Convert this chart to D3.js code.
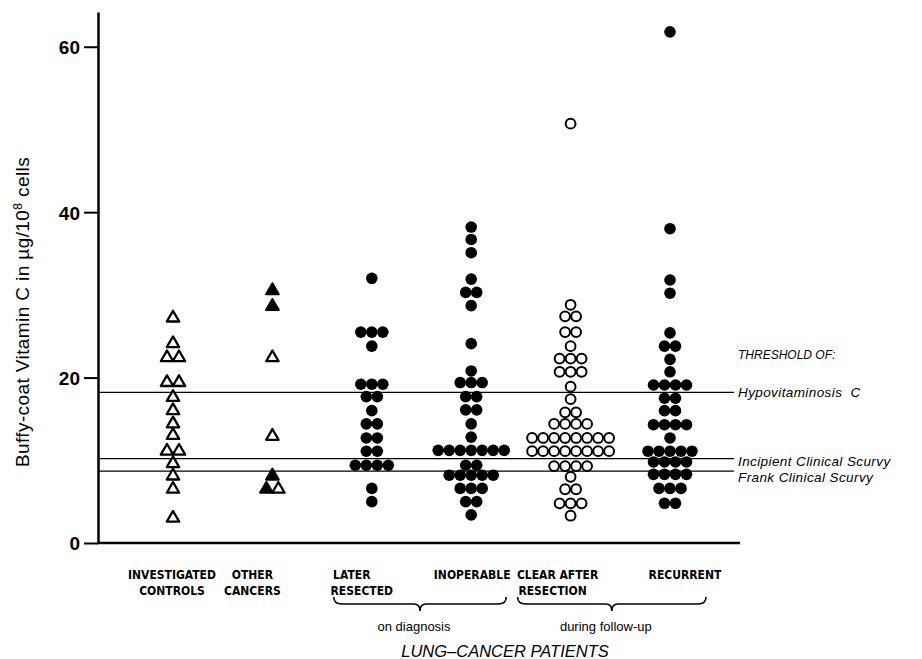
<!DOCTYPE html>
<html>
<head>
<meta charset="utf-8">
<script src="https://cdn.jsdelivr.net/npm/d3@7"></script>
<style>
  body { margin: 0; background: #fff; }
  .axis path, .axis line { stroke: #000; }
  .axis text { font-family: "Liberation Sans", Arial, sans-serif; font-weight: bold; font-size: 19px; fill: #000; }
  .cat { font-family: "DejaVu Sans", sans-serif; font-stretch: condensed; font-weight: bold; font-size: 12px; }
  .note { font-family: "Liberation Sans", Arial, sans-serif; font-style: italic; font-size: 13.5px; letter-spacing: 0.4px; }
  .sub { font-family: "Liberation Sans", Arial, sans-serif; font-size: 13px; }
</style>
</head>
<body>
<svg class="chart"></svg>
<script>
// data
var categories = ['INVESTIGATED CONTROLS', 'OTHER CANCERS', 'LATER RESECTED', 'INOPERABLE', 'CLEAR AFTER RESECTION', 'RECURRENT'];

var controls = [27.3, 24.2, 22.5, 22.5, 19.5, 19.5, 17.7, 16.1, 14.5, 13.1, 11.2, 11.2, 9.7, 8.2, 6.6, 3.1];
var otherFilled = [30.6, 28.7, 8.2, 6.6];
var otherOpen = [22.5, 13.0, 6.6];
var laterResected = [32.0, 25.5, 25.5, 25.5, 23.8, 19.2, 19.2, 19.2, 17.7, 17.7, 16.0, 14.4, 14.4,
  12.7, 12.7, 11.1, 11.1, 9.4, 9.4, 9.4, 9.4, 6.6, 5.0];
var inoperable = [38.2, 36.7, 35.1, 31.9, 30.3, 30.3, 28.7, 24.1, 20.8, 19.4, 19.4, 19.4, 17.7, 17.7,
  16.1, 16.1, 14.4, 12.8, 11.2, 11.2, 11.2, 11.2, 11.2, 11.2, 11.2, 9.4, 9.4,
  8.2, 8.2, 8.2, 8.2, 8.2, 6.6, 6.6, 6.6, 5.0, 5.0, 3.4];
var clearAfter = [50.7, 28.8, 27.4, 27.4, 25.5, 25.5, 23.8, 22.3, 22.3, 22.3, 20.7, 20.7, 20.7, 18.9, 17.4,
  15.8, 15.8, 14.4, 14.4, 14.4, 14.4, 12.7, 12.7, 12.7, 12.7, 12.7, 12.7, 12.7, 12.7,
  11.1, 11.1, 11.1, 11.1, 11.1, 11.1, 11.1, 11.1, 9.3, 9.3, 9.3, 9.3, 8.0, 6.5, 6.5, 4.8, 4.8, 4.8, 3.3];
var recurrent = [61.8, 38.0, 31.8, 30.2, 25.4, 23.8, 23.8, 22.2, 20.7, 19.1, 19.1, 19.1, 19.1, 17.5, 17.5,
  16.0, 16.0, 14.3, 14.3, 14.3, 14.3, 12.7, 11.1, 11.1, 11.1, 11.1, 11.1,
  9.8, 9.8, 9.8, 9.8, 8.3, 8.3, 8.3, 8.3, 6.6, 6.6, 6.6, 4.8, 4.8];

var thresholds = [18.2, 10.2, 8.7];
var thresholdLabels = ['Hypovitaminosis  C', 'Incipient Clinical Scurvy', 'Frank Clinical Scurvy'];
var yTicks = [0, 20, 40, 60];

// chart
var width = 922;
var height = 659;
var margin = { left: 98, right: 190, top: 12, bottom: 116 };

var chart = d3.select('.chart')
    .attr('width', width)
    .attr('height', height);

var x = d3.scalePoint()
    .domain(categories)
    .range([173, 670]);

var y = d3.scaleLinear()
    .domain([0, 64.2])
    .range([height - margin.bottom, margin.top]);

// build point list: shape 'tri' or 'dot', filled or not
var points = [];
function add(cat, vals, shape, filled) {
  vals.forEach(function(v) { points.push({cat: cat, v: v, shape: shape, filled: filled}); });
}
add(categories[0], controls, 'tri', false);
add(categories[1], otherFilled, 'tri', true);
add(categories[1], otherOpen, 'tri', false);
add(categories[2], laterResected, 'dot', true);
add(categories[3], inoperable, 'dot', true);
add(categories[4], clearAfter, 'dot', false);
add(categories[5], recurrent, 'dot', true);

// equal values sit side by side, centred on the column
var rows = d3.group(points, function(d) { return d.cat + '|' + d.v; });
rows.forEach(function(list) {
  var step = list[0].shape == 'tri' ? 12 : 11;
  list.forEach(function(d, i) { d.dx = (i - (list.length - 1) / 2) * step; });
});

// threshold lines
chart.selectAll('.threshold')
    .data(thresholds)
  .enter().append('line')
    .attr('x1', margin.left)
    .attr('x2', 734)
    .attr('y1', function(d) { return y(d); })
    .attr('y2', function(d) { return y(d); })
    .attr('stroke', '#000')
    .attr('stroke-width', 1.3);

var labelY = [0, 2, 6];
chart.selectAll('.thLabel')
    .data(thresholdLabels)
  .enter().append('text')
    .attr('class', 'note')
    .attr('x', 738)
    .attr('y', function(d, i) { return y(thresholds[i]) + 5 + labelY[i]; })
    .style('white-space', 'pre')
    .text(function(d) { return d; });

chart.append('text')
    .attr('class', 'note')
    .attr('x', 738)
    .attr('y', 359)
    .style('font-size', '12px')
    .style('letter-spacing', '0px')
    .text('THRESHOLD OF:');

// markers
var tri = 'M0,-6.4L6.2,4.3L-6.2,4.3Z';
chart.selectAll('.tri')
    .data(points.filter(function(d) { return d.shape == 'tri'; }))
  .enter().append('path')
    .attr('d', tri)
    .attr('transform', function(d) { return 'translate(' + (x(d.cat) + d.dx) + ',' + y(d.v) + ')'; })
    .attr('fill', function(d) { return d.filled ? '#000' : '#fff'; })
    .attr('stroke', '#000')
    .attr('stroke-width', 2.3)
    .attr('stroke-linejoin', 'round');

chart.selectAll('.dot')
    .data(points.filter(function(d) { return d.shape == 'dot'; }))
  .enter().append('circle')
    .attr('cx', function(d) { return x(d.cat) + d.dx; })
    .attr('cy', function(d) { return y(d.v); })
    .attr('r', function(d) { return d.filled ? 5.8 : 4.9; })
    .attr('fill', function(d) { return d.filled ? '#000' : '#fff'; })
    .attr('stroke', '#000')
    .attr('stroke-width', function(d) { return d.filled ? 0 : 2; });

// axes
var yAxis = d3.axisLeft(y)
    .tickValues(yTicks)
    .tickSize(14)
    .tickSizeOuter(0)
    .tickPadding(4);

var gy = chart.append('g')
    .attr('class', 'y axis')
    .attr('transform', 'translate(' + margin.left + ',0)')
    .call(yAxis);
gy.select('.domain').attr('stroke-width', 2.5);
gy.selectAll('.tick line').attr('stroke-width', 2);
gy.selectAll('.tick text').attr('dy', '0.36em');

chart.append('line')
    .attr('x1', margin.left - 1)
    .attr('x2', 740)
    .attr('y1', y(0))
    .attr('y2', y(0))
    .attr('stroke', '#000')
    .attr('stroke-width', 2.5);

chart.append('text')
    .attr('transform', 'translate(29,' + 312 + ') rotate(-90)')
    .attr('text-anchor', 'middle')
    .style('font-family', '"Liberation Sans", Arial, sans-serif')
    .style('font-size', '19px')
    .style('letter-spacing', '0.4px')
    .html('Buffy-coat Vitamin C in µg/10<tspan dy="-7" font-size="12px">8</tspan><tspan dy="7"> cells</tspan>');

// category labels
var catLines = [['INVESTIGATED', 'CONTROLS'], ['OTHER', 'CANCERS'], ['LATER', 'RESECTED'], ['INOPERABLE'], ['CLEAR AFTER', 'RESECTION'], ['RECURRENT']];
var catShift = [[-1, -1], [-20, -20], [-20, -10], [1], [-13, -18], [15]];
catLines.forEach(function(lines, i) {
  lines.forEach(function(t, j) {
    chart.append('text')
      .attr('class', 'cat')
      .attr('x', x(categories[i]) + catShift[i][j])
      .attr('y', 579 + j * 16)
      .attr('text-anchor', 'middle')
      .text(t);
  });
});

// braces
function brace(x1, x2) {
  var tip = (x1 + x2) / 2;
  return 'M' + x1 + ',597 Q' + x1 + ',604 ' + (x1 + 8) + ',604 L' + (tip - 6) + ',604 Q' + tip + ',604 ' + tip + ',611' +
    ' Q' + tip + ',604 ' + (tip + 6) + ',604 L' + (x2 - 8) + ',604 Q' + x2 + ',604 ' + x2 + ',597';
}
var braces = [[x(categories[2]) - 38, x(categories[3]) + 35], [x(categories[4]) - 53, x(categories[5]) + 36]];
chart.selectAll('.brace')
    .data(braces)
  .enter().append('path')
    .attr('d', function(d) { return brace(d[0], d[1]); })
    .attr('fill', 'none')
    .attr('stroke', '#000')
    .attr('stroke-width', 1.6);

chart.selectAll('.sub')
    .data(['on diagnosis', 'during follow-up'])
  .enter().append('text')
    .attr('class', 'sub')
    .attr('x', function(d, i) { return (braces[i][0] + braces[i][1]) / 2 - 6; })
    .attr('y', 631)
    .attr('text-anchor', 'middle')
    .text(function(d) { return d; });

chart.append('text')
    .attr('x', 505)
    .attr('y', 657)
    .attr('text-anchor', 'middle')
    .style('font-family', '"Liberation Sans", Arial, sans-serif')
    .style('font-style', 'italic')
    .style('font-size', '16.5px')
    .text('LUNG–CANCER PATIENTS');
</script>
</body>
</html>
